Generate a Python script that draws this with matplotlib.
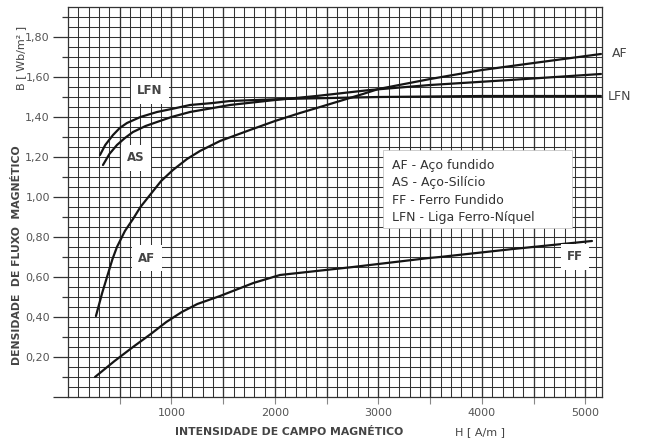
import numpy as np
import matplotlib
matplotlib.use("Agg")
import matplotlib.pyplot as plt
from matplotlib.patches import Rectangle
from matplotlib.ticker import MultipleLocator, FuncFormatter

# curvas de magnetização B x H
h_af = [270, 330, 377, 430, 473, 550, 628, 700, 792, 900, 1014, 1150, 1275, 1469, 1758, 2000,
        2242, 2500, 2850, 3000, 3200, 3500, 4000, 4500, 5150]
b_af = [0.405, 0.52, 0.60, 0.69, 0.75, 0.83, 0.89, 0.95, 1.01, 1.08, 1.135, 1.19, 1.23, 1.28, 1.335, 1.38,
        1.42, 1.46, 1.515, 1.54, 1.56, 1.59, 1.635, 1.67, 1.715]

h_as = [338, 400, 473, 550, 628, 750, 860, 1000, 1179, 1400, 1565, 2000, 2400, 2918, 3500, 4270, 5150]
b_as = [1.16, 1.215, 1.26, 1.295, 1.325, 1.355, 1.375, 1.40, 1.425, 1.445, 1.46, 1.485, 1.505, 1.535,
        1.56, 1.585, 1.615]

h_lfn = [309, 360, 435, 500, 570, 700, 860, 1000, 1179, 1400, 1565, 2077, 3000, 4000, 5150]
b_lfn = [1.21, 1.26, 1.31, 1.345, 1.37, 1.40, 1.425, 1.44, 1.46, 1.47, 1.48, 1.49, 1.50, 1.505, 1.505]

h_ff = [261, 450, 628, 800, 950, 1100, 1250, 1469, 1791, 2048, 2754, 3488, 3594, 4300, 5063]
b_ff = [0.10, 0.18, 0.25, 0.315, 0.375, 0.425, 0.465, 0.505, 0.57, 0.61, 0.65, 0.695, 0.70, 0.74, 0.78]

legenda = ["AF - Aço fundido", "AS - Aço-Silício", "FF - Ferro Fundido", "LFN - Liga Ferro-Níquel"]

W, H = 649, 441
fig = plt.figure(figsize=(W / 100, H / 100), dpi=100)
ax = fig.add_axes([68 / W, (H - 397) / H, 534 / W, 390 / H])
ax.set_xlim(0, 5160)
ax.set_ylim(0, 1.95)

grid_col = "#333333"
for x in np.arange(100, 5160, 100):
    ax.axvline(x, color=grid_col, lw=0.75 if x % 500 else 0.95, zorder=1)
for y in np.arange(0.05, 1.95, 0.05):
    ax.axhline(y, color=grid_col, lw=0.75, zorder=1)
for s in ax.spines.values():
    s.set_color(grid_col)
    s.set_linewidth(0.9)

curve_col = "#151515"
for hh, bb in [(h_af, b_af), (h_as, b_as), (h_lfn, b_lfn), (h_ff, b_ff)]:
    ax.plot(hh, bb, color=curve_col, lw=1.6, zorder=3, solid_capstyle="round", solid_joinstyle="round")

# ticks
ax.yaxis.set_major_locator(MultipleLocator(0.2))
ax.yaxis.set_minor_locator(MultipleLocator(0.1))
ax.yaxis.set_major_formatter(FuncFormatter(lambda v, p: "" if v < 0.1 else f"{v:.2f}".replace(".", ",")))
ax.tick_params(axis="y", which="major", length=11, width=0.9, color=grid_col,
               labelsize=8, labelcolor="#555555", pad=2)
ax.tick_params(axis="y", which="minor", length=4, width=0.9, color=grid_col)
ax.set_xticks(np.arange(500, 5001, 500))
ax.set_xticklabels(["" if v % 1000 else str(int(v)) for v in np.arange(500, 5001, 500)])
ax.tick_params(axis="x", length=5, width=0.8, color="#888888", labelsize=8,
               labelcolor="#555555", pad=3)

lab_kw = dict(fontsize=8.5, fontweight="bold", color="#444444", ha="center", va="center",
              zorder=5, bbox=dict(facecolor="white", edgecolor="none", pad=4.5))
ax.text(792, 1.53, "LFN", **lab_kw)
ax.text(657, 1.195, "AS", **lab_kw)
ax.text(763, 0.695, "AF", **lab_kw)
ax.text(4900, 0.70, "FF", **lab_kw)

ax.text(5256, 1.715, "AF", fontsize=9, color="#444444", va="center", ha="left", clip_on=False)
ax.text(5217, 1.505, "LFN", fontsize=9, color="#444444", va="center", ha="left", clip_on=False)

ax.add_patch(Rectangle((3043, 0.845), 1827, 0.39, facecolor="white", edgecolor="#bbbbbb",
                       lw=0.5, zorder=4))
for i, t in enumerate(legenda):
    ax.text(3130, 1.16 - i * 0.0875, t, fontsize=9, color="#333333", va="center", ha="left", zorder=5)

fig.text(289 / W, 1 - 432 / H, "INTENSIDADE DE CAMPO MAGNÉTICO", fontsize=7.8, fontweight="bold",
         color="#444444", ha="center", va="center")
fig.text(480 / W, 1 - 432 / H, "H [ A/m ]", fontsize=8, color="#444444", ha="center", va="center")
fig.text(17 / W, 1 - 255 / H, "DENSIDADE  DE FLUXO  MAGNÉTICO", fontsize=7.8, fontweight="bold",
         color="#444444", ha="center", va="center", rotation=90)
fig.text(21 / W, 1 - 58 / H, "B [ Wb/m² ]", fontsize=8, color="#444444", ha="center", va="center",
         rotation=90)

fig.savefig("out.png", dpi=100, facecolor="white")
